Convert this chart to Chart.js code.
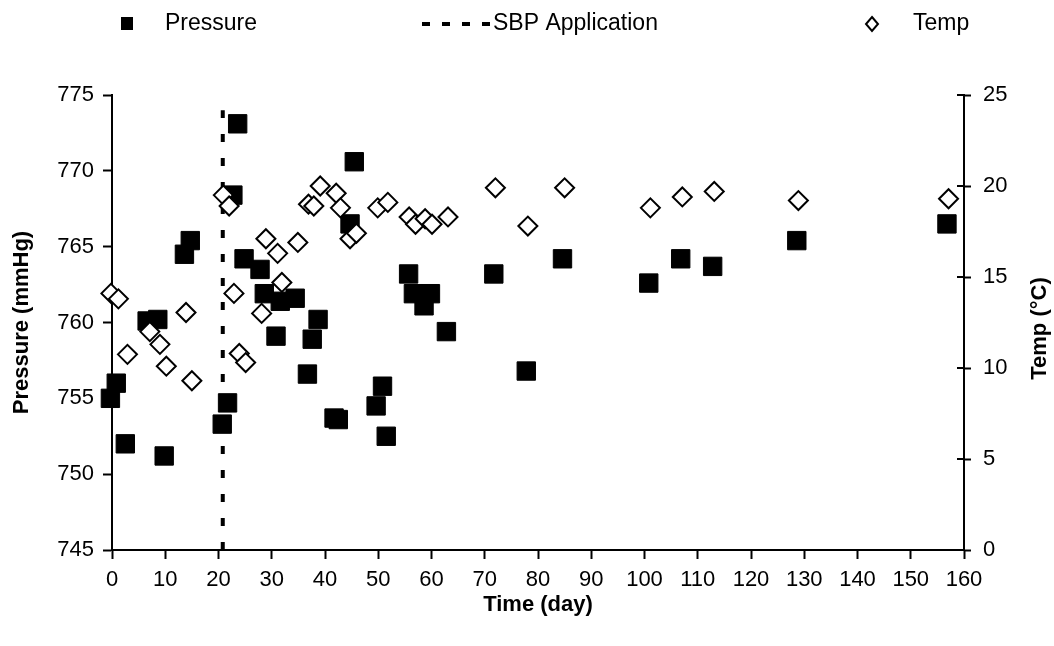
<!DOCTYPE html>
<html>
<head>
<meta charset="utf-8">
<script src="https://cdn.jsdelivr.net/npm/chart.js@4/dist/chart.umd.min.js"></script>
<style>
	html, body { margin: 0; padding: 0; background: #fff; }
	#wrap { width: 1054px; height: 646px; }
</style>
</head>
<body>
<div id="wrap"><canvas id="canvas0" width="1054" height="646"></canvas></div>
<script>
// Pressure readings (day, mmHg)
var pressureDays = [-0.3, 0.8, 2.5, 6.6, 8.6, 9.8, 13.6, 14.7, 20.7, 21.7, 22.7, 23.6, 24.8, 27.8, 28.6, 30.8, 31.6, 34.4, 36.7, 37.6, 38.7, 41.7, 42.5, 44.7, 45.5, 49.6, 50.8, 51.5, 55.7, 56.6, 58.6, 59.8, 62.8, 71.7, 77.8, 84.6, 100.8, 106.8, 112.8, 128.6, 156.8];
var pressureValues = [755.0, 756.0, 752.0, 760.1, 760.2, 751.2, 764.5, 765.4, 753.3, 754.7, 768.4, 773.1, 764.2, 763.5, 761.9, 759.1, 761.4, 761.6, 756.6, 758.9, 760.2, 753.7, 753.6, 766.5, 770.6, 754.5, 755.8, 752.5, 763.2, 761.9, 761.1, 761.9, 759.4, 763.2, 756.8, 764.2, 762.6, 764.2, 763.7, 765.4, 766.5];

// Temperature readings (day, degC)
var tempDays = [-0.2, 1.2, 2.9, 7.1, 9.0, 10.2, 13.9, 15.0, 20.9, 22.0, 22.9, 23.9, 25.1, 28.1, 28.9, 31.1, 31.9, 34.9, 36.9, 37.9, 39.1, 42.1, 42.9, 44.7, 45.9, 49.9, 51.8, 55.8, 57.0, 58.8, 60.1, 63.1, 72.0, 78.1, 85.0, 101.1, 107.1, 113.1, 128.9, 157.1];
var tempValues = [14.1, 13.8, 10.75, 12.0, 11.3, 10.1, 13.05, 9.3, 19.5, 18.9, 14.1, 10.8, 10.3, 13.0, 17.1, 16.3, 14.7, 16.9, 19.0, 18.9, 20.0, 19.6, 18.8, 17.1, 17.4, 18.8, 19.1, 18.3, 17.9, 18.2, 17.9, 18.3, 19.9, 17.8, 19.9, 18.8, 19.4, 19.7, 19.2, 19.3];

// SBP application marker
var sbpDay = 20.8;
var sbpRange = [745, 774];

var labels = ['Pressure', 'SBP Application', 'Temp'];
var fontFamily = '"Liberation Sans", Arial, sans-serif';
var fontSize = 22;

function zip(xs, ys) {
	return xs.map(function(x, i) { return { x: x, y: ys[i] }; });
}

// Draws the legend row, inner ticks of the right axis and its title
var extrasPlugin = {
	id: 'extras',
	afterDraw: function(chart) {
		let ctx = chart.ctx;
		let area = chart.chartArea;
		ctx.save();
		ctx.fillStyle = '#000';
		ctx.strokeStyle = '#000';
		ctx.font = '23px ' + fontFamily;
		ctx.textBaseline = 'middle';
		ctx.textAlign = 'left';
		let ly = 24;
		// Pressure
		ctx.fillRect(121, ly - 7, 12, 13);
		ctx.fillText(labels[0], 165, ly);
		// SBP Application
		ctx.beginPath();
		ctx.lineWidth = 4;
		ctx.setLineDash([8, 12]);
		ctx.moveTo(422, ly);
		ctx.lineTo(490, ly);
		ctx.stroke();
		ctx.setLineDash([]);
		ctx.fillText(labels[1], 493, ly);
		// Temp
		ctx.beginPath();
		ctx.lineWidth = 2;
		ctx.moveTo(872, ly - 7);
		ctx.lineTo(878, ly);
		ctx.lineTo(872, ly + 7);
		ctx.lineTo(866, ly);
		ctx.closePath();
		ctx.stroke();
		ctx.fillText(labels[2], 913, ly);
		// Right axis inner ticks
		let y2 = chart.scales.y2;
		ctx.lineWidth = 2;
		y2.ticks.forEach(function(t) {
			let py = y2.getPixelForValue(t.value);
			ctx.beginPath();
			ctx.moveTo(area.right - 7, py);
			ctx.lineTo(area.right, py);
			ctx.stroke();
		});
		// Right axis title, reading upwards
		ctx.font = 'bold ' + fontSize + 'px ' + fontFamily;
		ctx.textAlign = 'center';
		ctx.translate(1040, (area.top + area.bottom) / 2 + 6);
		ctx.rotate(-Math.PI / 2);
		ctx.fillText('Temp (°C)', 0, 0);
		ctx.restore();
	}
};

var axisGrid = {
	display: true,
	drawOnChartArea: false,
	drawTicks: true,
	tickLength: 9,
	tickColor: '#000',
	tickWidth: 2
};
var axisBorder = { display: true, color: '#000', width: 2 };
var tickFont = { family: fontFamily, size: fontSize };
var titleFont = { family: fontFamily, size: fontSize, weight: 'bold' };

let ctx = document.getElementById('canvas0').getContext('2d');
let chartJsOptions = {
	type: 'scatter',
	data: {
		datasets: []
	},
	options: {
		responsive: false,
		animation: false,
		events: [],
		layout: {
			padding: { top: 95, left: 0, right: 0, bottom: 0 }
		},
		scales: {
			x: {
				type: 'linear',
				min: 0,
				max: 160,
				ticks: { stepSize: 10, color: '#000', font: tickFont, padding: 8, maxRotation: 0 },
				grid: axisGrid,
				border: axisBorder,
				title: {
					display: true,
					text: 'Time (day)',
					color: '#000',
					font: titleFont,
					padding: { top: 0, bottom: 28 }
				},
				afterFit: function(scale) { scale.height = 96; }
			},
			y: {
				position: 'left',
				min: 745,
				max: 775,
				ticks: { stepSize: 5, color: '#000', font: tickFont, padding: 9 },
				grid: axisGrid,
				border: axisBorder,
				title: {
					display: true,
					text: 'Pressure (mmHg)',
					color: '#000',
					font: titleFont,
					padding: { top: 9, bottom: 0 }
				},
				afterFit: function(scale) { scale.width = 112; }
			},
			y2: {
				position: 'right',
				min: 0,
				max: 25,
				ticks: { stepSize: 5, color: '#000', font: tickFont, padding: 12 },
				grid: Object.assign({}, axisGrid, { tickLength: 7 }),
				border: axisBorder,
				afterFit: function(scale) { scale.width = 90; }
			}
		},
		plugins: {
			legend: { display: false },
			tooltip: { enabled: false },
			title: { display: false }
		}
	},
	plugins: [extrasPlugin]
};
chartJsOptions.data.datasets[0] = {
	label: labels[1],
	type: 'line',
	showLine: true,
	fill: false,
	borderColor: '#000',
	borderWidth: 4,
	borderDash: [8, 16],
	pointRadius: 0,
	yAxisID: 'y',
	order: 3,
	data: [{ x: sbpDay, y: sbpRange[0] }, { x: sbpDay, y: sbpRange[1] }]
};
chartJsOptions.data.datasets[1] = {
	label: labels[0],
	pointStyle: 'rect',
	pointRadius: 13,
	backgroundColor: '#000',
	borderColor: '#000',
	borderWidth: 1,
	yAxisID: 'y',
	order: 2,
	clip: false,
	data: zip(pressureDays, pressureValues)
};
chartJsOptions.data.datasets[2] = {
	label: labels[2],
	pointStyle: 'rectRot',
	pointRadius: 9.5,
	backgroundColor: '#fff',
	borderColor: '#000',
	borderWidth: 2,
	yAxisID: 'y2',
	order: 1,
	clip: false,
	data: zip(tempDays, tempValues)
};
let chart = new Chart(ctx, chartJsOptions);
</script>
</body>
</html>
